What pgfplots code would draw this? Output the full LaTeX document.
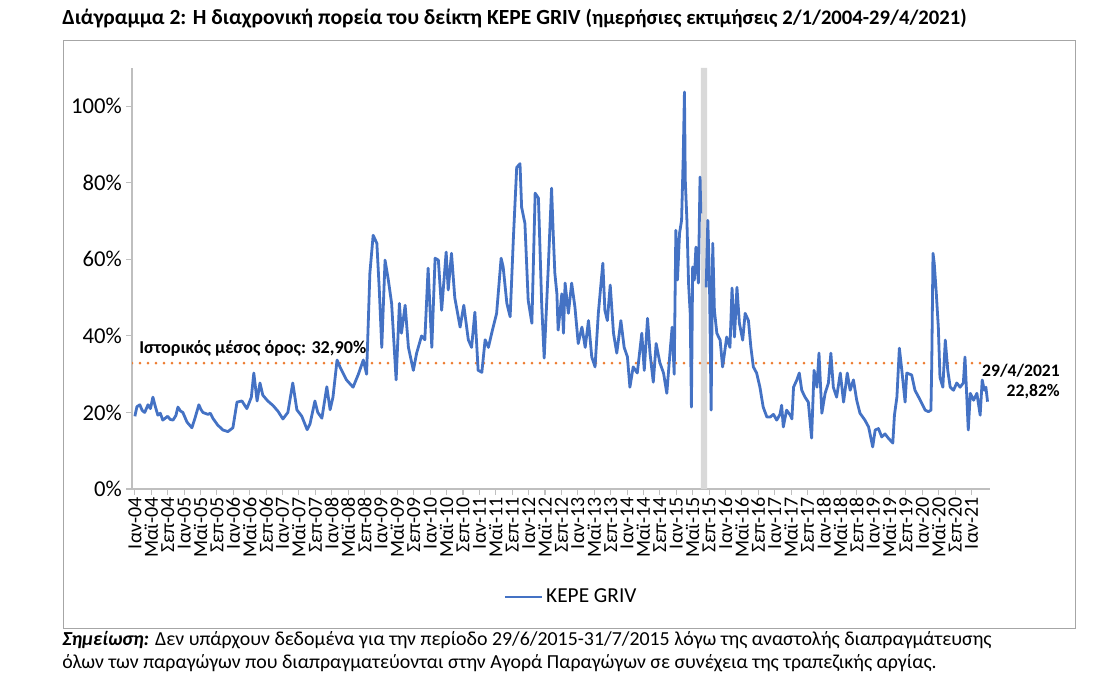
\documentclass[border=0pt]{standalone}
\usepackage{fontspec}
\setmainfont{Carlito}
\usepackage{pgfplots}
\pgfplotsset{compat=1.18}
\definecolor{griv}{HTML}{4472C4}
\definecolor{avg}{HTML}{ED7D31}
\definecolor{axgray}{HTML}{BFBFBF}
\definecolor{band}{HTML}{D9D9D9}
\definecolor{frame}{HTML}{A6A6A6}

\begin{document}
\begin{tikzpicture}
\path[use as bounding box] (0,0) rectangle (836.25pt,519.75pt);
\begin{axis}[
  at={(99pt,153pt)}, anchor=south west,
  scale only axis, width=643.5pt, height=315.75pt,
  xmin=-0.7, xmax=208.5, ymin=0, ymax=110,
  axis lines=left, axis line style={axgray, line width=0.8pt, -},
  tick align=outside, major tick length=4.5pt,
  tick style={axgray, line width=0.8pt},
  ytick={0,20,...,100},
  yticklabels={0\%,20\%,40\%,60\%,80\%,100\%},
  y tick label style={font=\fontsize{17}{17}\selectfont, inner sep=3pt},
  xtick={0,4,...,204},
  xticklabels={Ιαν-04,Μαϊ-04,Σεπ-04,Ιαν-05,Μαϊ-05,Σεπ-05,Ιαν-06,Μαϊ-06,Σεπ-06,
    Ιαν-07,Μαϊ-07,Σεπ-07,Ιαν-08,Μαϊ-08,Σεπ-08,Ιαν-09,Μαϊ-09,Σεπ-09,
    Ιαν-10,Μαϊ-10,Σεπ-10,Ιαν-11,Μαϊ-11,Σεπ-11,Ιαν-12,Μαϊ-12,Σεπ-12,
    Ιαν-13,Μαϊ-13,Σεπ-13,Ιαν-14,Μαϊ-14,Σεπ-14,Ιαν-15,Μαϊ-15,Σεπ-15,
    Ιαν-16,Μαϊ-16,Σεπ-16,Ιαν-17,Μαϊ-17,Σεπ-17,Ιαν-18,Μαϊ-18,Σεπ-18,
    Ιαν-19,Μαϊ-19,Σεπ-19,Ιαν-20,Μαϊ-20,Σεπ-20,Ιαν-21},
  x tick label style={rotate=90, anchor=east, font=\fontsize{15}{15}\selectfont, inner sep=1.5pt},
  unbounded coords=jump,
  legend style={at={(0.512,-0.2565)}, anchor=center, draw=none, fill=none,
    font=\fontsize{16}{16}\selectfont},
  legend image code/.code={\draw[#1] (0pt,0pt) -- (28pt,0pt);},
]
% no data 29/6/2015-31/7/2015
\addplot[fill=band, draw=none, forget plot] coordinates {(138.0,0) (139.5,0) (139.5,110) (138.0,110)} \closedcycle;
% historical mean
\addplot[avg, line width=2.2pt, line cap=round, dash pattern=on 0pt off 6pt, forget plot]
  coordinates {(-0.7,32.9) (207.3,32.9)};
\addplot[griv, line width=2.1pt, line join=round] coordinates {
(0.0,19) (0.5,21.5) (1.2,22) (1.8,20.5) (2.4,20) (3.2,22) (3.8,21) (4.4,24) (5.0,21.5)
(5.6,19.3) (6.2,19.8) (6.8,18)
(8.0,19) (8.6,18.2) (9.3,18) (10.0,19.2) (10.5,21.4) (11.1,20.4) (11.7,20) (12.7,17.5)
(13.9,16) (14.6,18.3)
(15.6,22) (16.1,20.8) (16.6,20) (17.8,19.5) (18.4,19.8) (19.0,18.5) (20.2,16.7) (21.5,15.4) (22.7,15)
(23.9,16) (24.9,22.7) (26.1,23) (27.3,21) (28.4,24) (29.0,30.3) (29.8,23) (30.5,27.7)
(31.2,24.5) (32.4,23) (33.7,21.8) (34.9,20.3) (36.1,18.3) (37.3,20) (38.5,27.7)
(39.5,20.7) (40.7,19) (42.0,15.5) (42.7,17) (43.9,23) (44.6,20) (45.6,18.5)
(46.8,26.7) (47.6,20.7) (48.3,24) (49.3,33.7) (50.0,31.9) (51.6,28.5) (53.2,26.6)
(54.5,30) (55.7,33.7) (56.5,30) (57.3,56.4) (58.1,66.3) (59.0,64.2) (59.6,52)
(60.2,37) (61.0,59.8) (61.8,54.6) (62.6,48.5) (63.7,28.5) (64.5,48.5) (65.0,40.7)
(65.9,48) (66.7,37) (67.9,31) (68.7,35.5) (69.9,40) (70.7,39) (71.5,57.7)
(72.4,37) (73.2,60.3) (74.0,59.8) (74.8,46.7) (75.9,61.9) (76.4,52) (77.2,61.6)
(78.0,50) (79.3,42.3) (80.2,48) (81.3,39) (82.1,37) (82.9,46.2) (83.7,31)
(84.6,30.5) (85.4,39) (86.2,37) (87.0,40.7) (88.2,45.9) (89.3,60.3) (89.8,58)
(90.7,48.5) (91.5,45) (92.3,65.8) (93.1,84) (93.9,85) (94.3,73.6) (95.1,69.4)
(95.9,49.3) (96.8,43.3) (97.6,77.3) (98.4,76) (99.2,48) (99.8,34.2) (100.8,58)
(101.6,78.6) (102.0,66.8) (102.4,56.4) (102.9,51) (103.2,41.5) (104.1,51)
(104.5,40.7) (104.9,53.8) (105.7,45.9) (106.5,53.8) (107.3,47.5) (108.1,38)
(109.0,42.3) (109.8,37) (110.6,44) (111.4,34.5) (112.2,31.9) (113.0,45.9)
(114.1,59) (114.6,46.7) (115.2,44) (115.9,53.3) (116.7,40.7) (117.5,35.5)
(118.5,44) (119.3,37) (120.1,34.5) (120.7,26.6) (121.5,31.9) (122.5,30.3)
(123.6,40.7) (124.2,31) (125.0,44.6) (125.6,35.5) (126.4,27.9) (127.1,38)
(128.0,33) (128.9,30.3) (129.7,25) (130.5,36) (131.0,42.3) (131.5,30)
(131.9,67.6) (132.3,54.6) (132.8,66.8) (133.3,70.2) (133.7,86.7) (134.0,103.7)
(134.2,80.7) (134.6,70.2) (135.0,53.8) (135.4,45.9) (135.7,21.4) (136.0,58)
(136.4,54.6) (136.8,63.2) (137.4,53.8) (137.8,81.5) (138.0,72)
(138.7,nan)
(139.3,52.7) (139.7,70.2) (140.1,54.6) (140.5,20.6) (140.9,64.2) (141.3,46.7)
(141.9,40.7) (142.7,38.9) (143.3,31.9) (144.3,39.7) (145.1,37) (145.6,52.5)
(146.2,39.7) (146.8,52.7) (147.4,43.3) (148.2,38.9) (148.8,45.9) (149.6,44)
(150.2,37) (150.8,31.9) (151.6,30.3) (152.4,26.6) (153.2,21.4) (154.1,18.8)
(154.9,18.8) (155.7,19.5) (156.5,18) (157.3,19.5) (157.7,21.9) (158.1,16.2)
(158.9,20.6) (159.8,19.3) (160.2,18.3) (160.6,26.6) (161.4,28.5) (162.0,30.3)
(162.6,25.8) (163.4,24) (164.2,22.7) (165.0,13.3) (165.6,31) (166.3,26.6)
(166.8,35.5) (167.5,19.8) (168.3,25) (169.1,27.7) (169.7,35.5) (170.3,26.6)
(171.1,24) (172.0,30.3) (172.8,22.7) (173.7,30.3) (174.4,25.8) (175.2,28.5)
(176.0,23.2) (176.8,19.8) (178.0,18) (178.9,16.2) (179.9,11) (180.5,15.4)
(181.3,15.8) (182.1,13.6) (182.9,14.4) (183.7,13.3) (184.8,12) (185.2,19.3)
(185.8,24) (186.4,36.8) (187.0,31) (187.8,22.7) (188.2,30.3) (189.4,29.8)
(190.2,25.8) (191.5,23.2) (192.7,20.6) (193.5,20.2) (194.1,20.6) (194.3,32.9)
(194.6,61.6) (194.9,59) (195.4,51.2) (195.9,42.3) (196.3,29.2) (197.0,26.6)
(197.6,38.9) (198.2,31) (198.8,26.6) (199.6,25.8) (200.4,27.7) (201.2,26.6)
(202.0,27.7) (202.4,34.5) (202.8,25) (203.2,15.4) (203.7,25) (204.5,23.2)
(205.3,25) (206.1,19.3) (206.6,28.5) (207.1,25.8) (207.5,26.6) (207.9,22.82)
};
\addlegendentry{KEPE GRIV}
\end{axis}
\begin{scope}[x=0.75pt, y=-0.75pt, yshift=519.75pt]
\draw[frame, line width=0.6pt] (63,40) rectangle (1075,628);
\node[anchor=base west, inner sep=0pt, font=\fontsize{16.2}{16.2}\selectfont\bfseries] at (62,25)
  {Διάγραμμα 2: Η διαχρονική πορεία του δείκτη KEPE GRIV {\fontsize{15.5}{15.5}\selectfont(ημερήσιες εκτιμήσεις 2/1/2004-29/4/2021)}};
\node[anchor=base west, inner sep=0pt, font=\fontsize{13.6}{13.6}\selectfont\bfseries] at (139,354)
  {Ιστορικός μέσος όρος: 32,90\%};
\node[anchor=base east, inner sep=0pt, font=\fontsize{13.2}{13.2}\selectfont\bfseries] at (1060,377) {29/4/2021};
\node[anchor=base east, inner sep=0pt, font=\fontsize{13.2}{13.2}\selectfont\bfseries] at (1060,397) {22,82\%};
\node[anchor=base west, inner sep=0pt, font=\fontsize{14.9}{14.9}\selectfont] at (62,646)
  {\textbf{\textit{Σημείωση:}} Δεν υπάρχουν δεδομένα για την περίοδο 29/6/2015-31/7/2015 λόγω της αναστολής διαπραγμάτευσης};
\node[anchor=base west, inner sep=0pt, font=\fontsize{14.9}{14.9}\selectfont] at (62,669)
  {όλων των παραγώγων που διαπραγματεύονται στην Αγορά Παραγώγων σε συνέχεια της τραπεζικής αργίας.};
\end{scope}
\end{tikzpicture}
\end{document}
